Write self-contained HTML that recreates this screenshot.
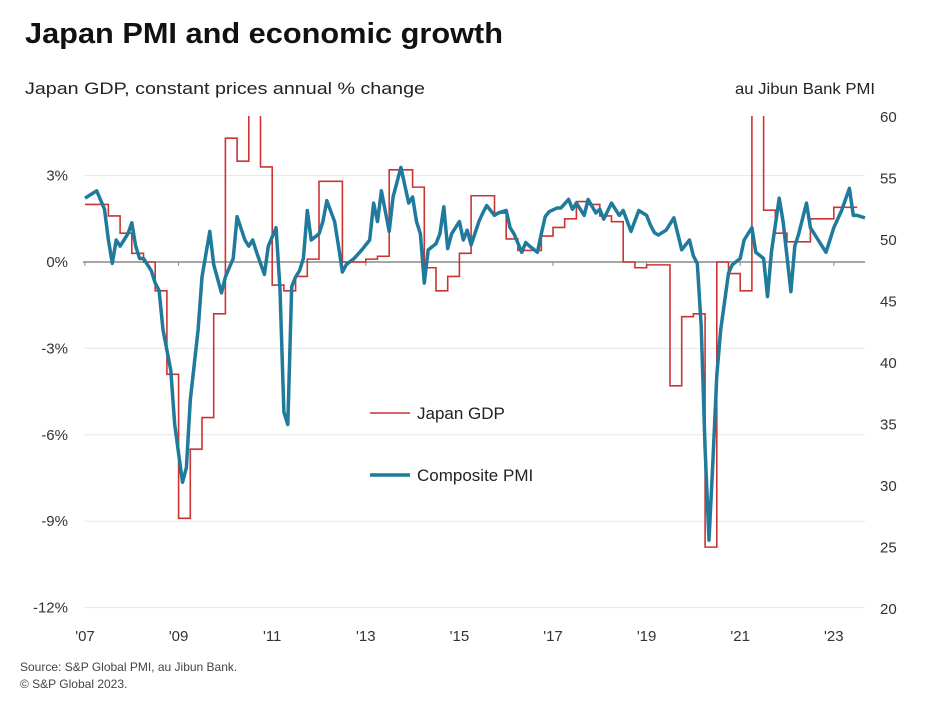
<!DOCTYPE html>
<html><head><meta charset="utf-8"><style>
body{margin:0;background:#fff;font-family:"Liberation Sans",sans-serif;}
svg text{font-family:"Liberation Sans",sans-serif;}
</style></head><body>
<svg id="chart" width="938" height="710" viewBox="0 0 938 710" xmlns="http://www.w3.org/2000/svg">
<rect width="938" height="710" fill="#fff"/>
<text x="25" y="43" font-size="29" font-weight="bold" fill="#111" textLength="478" lengthAdjust="spacingAndGlyphs">Japan PMI and economic growth</text>
<text x="25" y="94" font-size="17" fill="#222" textLength="400" lengthAdjust="spacingAndGlyphs">Japan GDP, constant prices annual % change</text>
<text x="735" y="94" font-size="16" fill="#222" textLength="140" lengthAdjust="spacingAndGlyphs">au Jibun Bank PMI</text>
<g id="grid"></g><g id="axes"></g><g id="series"></g>
<g>
<line x1="370" y1="413" x2="410" y2="413" stroke="#cc3333" stroke-width="1.6"/>
<text x="417" y="419" font-size="17" fill="#222">Japan GDP</text>
<line x1="370" y1="475" x2="410" y2="475" stroke="#1f7a9c" stroke-width="3.5"/>
<text x="417" y="481" font-size="17" fill="#222">Composite PMI</text>
</g>
<text x="20" y="671" font-size="12" fill="#444">Source: S&amp;P Global PMI, au Jibun Bank.</text>
<text x="20" y="688" font-size="12" fill="#444">© S&amp;P Global 2023.</text>
</svg>
<script>
const leftTicks=[3,0,-3,-6,-9,-12];
const leftLabels=["3%","0%","-3%","-6%","-9%","-12%"];
const rightTicks=[60,55,50,45,40,35,30,25,20];
const yearTicks=[2007,2009,2011,2013,2015,2017,2019,2021,2023];
const yearLabels=["'07","'09","'11","'13","'15","'17","'19","'21","'23"];
const gdpValues=[2.0,2.0,1.6,1.0,0.3,0.0,-1.0,-3.9,-8.9,-6.5,-5.4,-1.8,4.3,3.5,6.5,3.3,-0.8,-1.0,-0.5,0.1,2.8,2.8,0.0,0.0,0.1,0.2,3.2,3.2,2.6,-0.2,-1.0,-0.5,0.3,2.3,2.3,1.7,0.8,0.4,0.4,0.9,1.2,1.5,2.1,2.0,1.6,1.4,0.0,-0.2,-0.1,-0.1,-4.3,-1.9,-1.8,-9.9,0.0,-0.4,-1.0,8.0,1.8,1.0,0.7,0.7,1.5,1.5,1.9,1.9];
const pmiMonths=[0,2,3,5,6,7,8,9,11,12,13,14,15,17,18,19,20,22,23,25,26,27,29,30,32,33,35,36,38,39,41,42,43,44,46,47,49,50,51,52,53,54,55,56,57,58,60,61,62,64,65,66,67,69,71,73,74,75,76,78,79,81,83,84,85,86,87,88,90,91,92,93,94,96,97,98,99,101,102,103,105,106,108,109,110,112,113,114,116,117,118,119,121,122,124,125,126,128,129,131,132,133,135,137,138,140,142,144,145,146,147,149,151,152,153,155,156,157,158,159,160,161,162,163,164,165,166,168,169,171,172,174,175,176,178,179,181,182,183,185,186,188,189,190,192,194,196,197,198,200];
const pmiValues=[53.4,53.8,54,52.5,50,48.1,50,49.5,50.5,51.4,49.5,48.5,48.5,47.5,46.5,45.9,42.7,39.4,35,30.3,31.5,37,42.7,47,50.7,48,45.7,47,48.5,51.9,50,49.5,50,49,47.2,49.5,51,46,36,35,46.2,47,47.5,48.5,52.4,50,50.5,51.5,53.2,51.5,49.5,47.4,48,48.5,49.2,50,53,51.5,54,50.7,53.5,55.9,53,53.5,51.5,50.5,46.5,49.2,49.7,50.5,52.7,49.3,50.5,51.5,50,50.8,49.6,51.5,52.2,52.8,52,52.2,52.4,51,50.5,49,49.8,49.5,49,50.5,51.9,52.3,52.6,52.6,53.3,52.5,53,52,53.3,52.2,52.5,51.7,53,52,52.4,50.7,52.4,52,51.2,50.6,50.4,50.8,51.8,50.5,49.2,50,48.7,48.1,43,33,25.6,32,39,42.7,45,47.3,48,48.5,50,51,49,48.5,45.4,49,53.4,51.5,45.8,49.5,50.5,53,51,50,49.5,49,51,52.4,54.2,52,52,51.8];

const NS="http://www.w3.org/2000/svg";
const X0=85,PX_PER_MONTH=3.9,PLOT_L=85,PLOT_R=865,PLOT_T=116,PLOT_B=607;
function xMonth(m){return X0+m*PX_PER_MONTH;}
function xYear(y){return xMonth((y-2007)*12);}
function yLeft(v){return 262-v*28.8;}
function yRight(p){return 240-(p-50)*12.3;}
function mk(tag,attrs,parent){const e=document.createElementNS(NS,tag);for(const k in attrs)e.setAttribute(k,attrs[k]);parent.appendChild(e);return e;}
const grid=document.getElementById('grid'),axes=document.getElementById('axes'),series=document.getElementById('series');

leftTicks.forEach((v,i)=>{
  const y=yLeft(v);
  if(v!==0){const g=mk('line',{x1:PLOT_L,x2:PLOT_R,y1:y,y2:y,stroke:'#e6e6e6','stroke-width':1},grid);
  
  }
  const t=mk('text',{x:68,y:y+5,'font-size':15,'text-anchor':'end',fill:'#333'},axes);t.textContent=leftLabels[i];
  
  
});
rightTicks.forEach(p=>{
  const t=mk('text',{x:880,y:yRight(p)+5,'font-size':15,fill:'#333'},axes);t.textContent=p;
  
  
});
const zero=mk('line',{x1:PLOT_L-2,x2:PLOT_R,y1:yLeft(0),y2:yLeft(0),stroke:'#888','stroke-width':1.5},axes);


yearTicks.forEach((yr,i)=>{
  const x=xYear(yr);
  const tk=mk('line',{x1:x,x2:x,y1:yLeft(0),y2:yLeft(0)+4,stroke:'#888','stroke-width':1},axes);
  
  
  const t=mk('text',{x:x,y:641,'font-size':15,'text-anchor':'middle',fill:'#333'},axes);t.textContent=yearLabels[i];
  
  
});
const clip=mk('clipPath',{id:'pc'},document.getElementById('chart'));
mk('rect',{x:PLOT_L-5,y:PLOT_T,width:PLOT_R-PLOT_L+10,height:PLOT_B-PLOT_T},clip);
let d='';
gdpValues.forEach((v,q)=>{const x1=xMonth(q*3),x2=xMonth(q*3+3),y=yLeft(v);d+=(q===0?'M':'L')+x1+','+y+'L'+x2+','+y;});
const gp=mk('path',{d:d,fill:'none',stroke:'#cc3333','stroke-width':1.6,'clip-path':'url(#pc)'},series);


let d2='';
pmiValues.forEach((v,i)=>{d2+=(i===0?'M':'L')+xMonth(pmiMonths[i])+','+yRight(v);});
const pp=mk('path',{d:d2,fill:'none',stroke:'#1f7a9c','stroke-width':3.5,'stroke-linejoin':'round','clip-path':'url(#pc)'},series);


</script>
</body></html>
